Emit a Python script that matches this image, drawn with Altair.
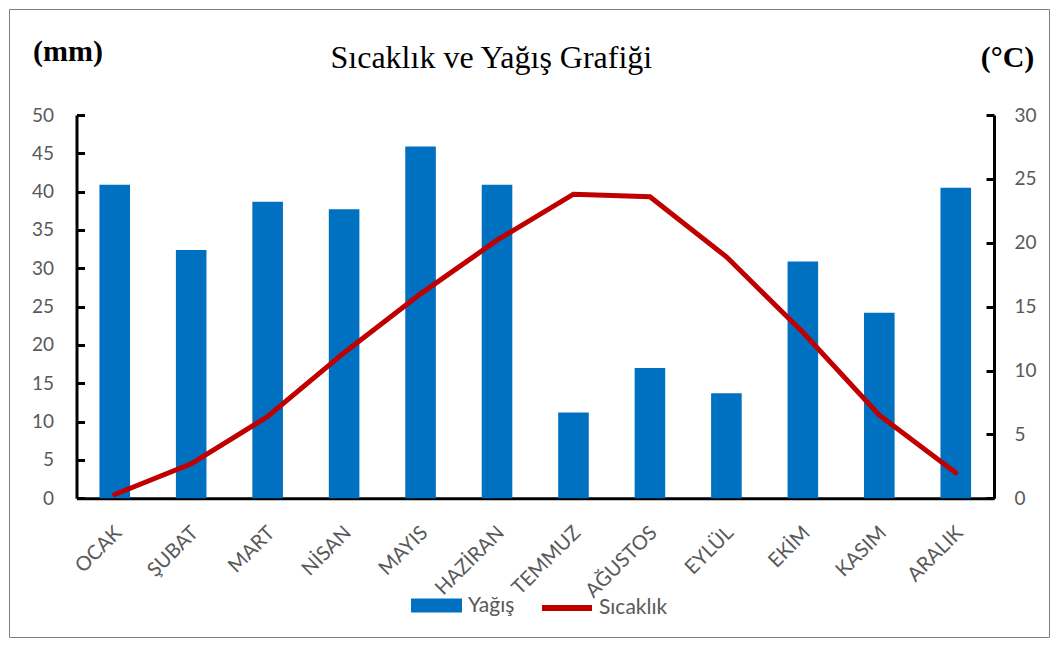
import altair as alt
import pandas as pd

# ---- data ----
months = ["OCAK", "ŞUBAT", "MART", "NİSAN", "MAYIS", "HAZİRAN",
          "TEMMUZ", "AĞUSTOS", "EYLÜL", "EKİM", "KASIM", "ARALIK"]
precip_mm = [40.9, 32.4, 38.7, 37.7, 45.9, 40.9, 11.2, 17.0, 13.7, 30.9, 24.2, 40.5]
temp_c = [0.3, 2.7, 6.4, 11.4, 16.0, 20.2, 23.8, 23.6, 18.9, 13.0, 6.5, 2.0]
mm_ticks = [0, 5, 10, 15, 20, 25, 30, 35, 40, 45, 50]
c_ticks = [0, 5, 10, 15, 20, 25, 30]
series_bar = ["Yağış"]
series_line = ["Sıcaklık"]
title_text = "Sıcaklık ve Yağış Grafiği"
left_title = "(mm)"
right_title = "(°C)"

df = pd.DataFrame({
    "ay": months,
    "yagis": precip_mm,
    "sicaklik": temp_c,
    "s1": series_bar * len(months),
    "s2": series_line * len(months),
})

# ---- layout (view = whole framed chart) ----
W, H = 1040, 628
X0, X1 = 67.5, 985      # plot-area left / right edge
YB, YT = 489.3, 106     # plot-area bottom / top

LABEL_FONT = "Lato"
LABEL_SIZE = 19
LABEL_COLOR = "#595959"
SERIF = "Liberation Serif"

x_enc = alt.X(
    "ay:N", sort=months,
    scale=alt.Scale(range=[X0, X1], paddingInner=0.6, paddingOuter=0.3),
    axis=alt.Axis(
        orient="bottom", offset=-(H - YB), labelAngle=-45, labelAlign="right",
        labelBaseline="middle", labelPadding=31, labelOffset=4, ticks=False,
        tickSize=0, domainColor="black", domainWidth=3, labelFont=LABEL_FONT,
        labelFontSize=20, labelColor=LABEL_COLOR, grid=False,
        title=title_text, titleFont=SERIF, titleFontSize=32,
        titleFontWeight="normal", titleColor="black", titleAngle=0,
        titleAlign="left", titleBaseline="alphabetic",
        titleX=321, titleY=58 - YB,
    ),
)

mm_scale = alt.Scale(domain=[0, 50], range=[YB, YT], nice=False, zero=True)
c_scale = alt.Scale(domain=[0, 30], range=[YB, YT], nice=False, zero=True)

bars = alt.Chart(df).mark_bar().encode(
    x=x_enc,
    y=alt.Y("yagis:Q", scale=mm_scale, axis=alt.Axis(
        orient="left", offset=-X0, values=mm_ticks, ticks=False, tickSize=0,
        domainColor="black", domainWidth=3, labelPadding=23,
        labelFont=LABEL_FONT, labelFontSize=LABEL_SIZE, labelColor=LABEL_COLOR,
        grid=False, title=left_title, titleAngle=0, titleX=-9, titleY=51,
        titleAlign="center", titleBaseline="alphabetic", titleFont=SERIF,
        titleFontSize=30, titleFontWeight="bold", titleColor="black",
    )),
    color=alt.Color("s1:N", scale=alt.Scale(domain=series_bar, range=["#0070C0"]),
                    legend=alt.Legend(
                        orient="none", legendX=402, legendY=571, title=None,
                        symbolType="M-1,-0.2745L1,-0.2745L1,0.2745L-1,0.2745Z",
                        symbolSize=2601, symbolStrokeWidth=0, symbolOpacity=1,
                        labelFont=LABEL_FONT, labelFontSize=21,
                        labelColor=LABEL_COLOR, labelOffset=6)),
)

bar_ticks = alt.Chart(df).mark_bar(opacity=0).encode(
    x=x_enc,
    y=alt.Y("yagis:Q", scale=mm_scale, axis=alt.Axis(
        orient="right", offset=-(W - X0), values=mm_ticks, ticks=True,
        tickSize=8, tickWidth=3, tickColor="black", domain=False,
        labels=False, grid=False, title=None,
    )),
)

line = alt.Chart(df).mark_line(strokeWidth=5, strokeCap="round").encode(
    x=x_enc,
    y=alt.Y("sicaklik:Q", scale=c_scale, axis=alt.Axis(
        orient="right", offset=-(W - X1), values=c_ticks, ticks=False, tickSize=0,
        domainColor="black", domainWidth=3, labelPadding=20,
        labelFont=LABEL_FONT, labelFontSize=LABEL_SIZE, labelColor=LABEL_COLOR,
        grid=False, title=right_title, titleAngle=0, titleX=13, titleY=57,
        titleAlign="center", titleBaseline="alphabetic", titleFont=SERIF,
        titleFontSize=30, titleFontWeight="bold", titleColor="black",
    )),
    stroke=alt.Stroke("s2:N", scale=alt.Scale(domain=series_line, range=["#C00000"]),
                      legend=alt.Legend(
                          orient="none", legendX=530, legendY=571, title=None,
                          symbolType="stroke", symbolSize=2500, symbolStrokeWidth=6,
                          labelFont=LABEL_FONT, labelFontSize=21,
                          labelColor=LABEL_COLOR, labelOffset=4)),
)

line_ticks = alt.Chart(df).mark_line(opacity=0).encode(
    x=x_enc,
    y=alt.Y("sicaklik:Q", scale=c_scale, axis=alt.Axis(
        orient="left", offset=-X1, values=c_ticks, ticks=True,
        tickSize=8, tickWidth=3, tickColor="black", domain=False,
        labels=False, grid=False, title=None,
    )),
)

left_group = alt.layer(bars, bar_ticks).resolve_axis(y="independent")
right_group = alt.layer(line, line_ticks).resolve_axis(y="independent")

chart = alt.layer(left_group, right_group).resolve_scale(
    y="independent", color="independent", stroke="independent"
).properties(
    width=W, height=H, padding=1,
    autosize=alt.AutoSizeParams(type="none"),
).configure_view(
    stroke="#7F7F7F", strokeWidth=1
)

chart.save("out.html", embed_options={"renderer": "svg", "actions": False})
